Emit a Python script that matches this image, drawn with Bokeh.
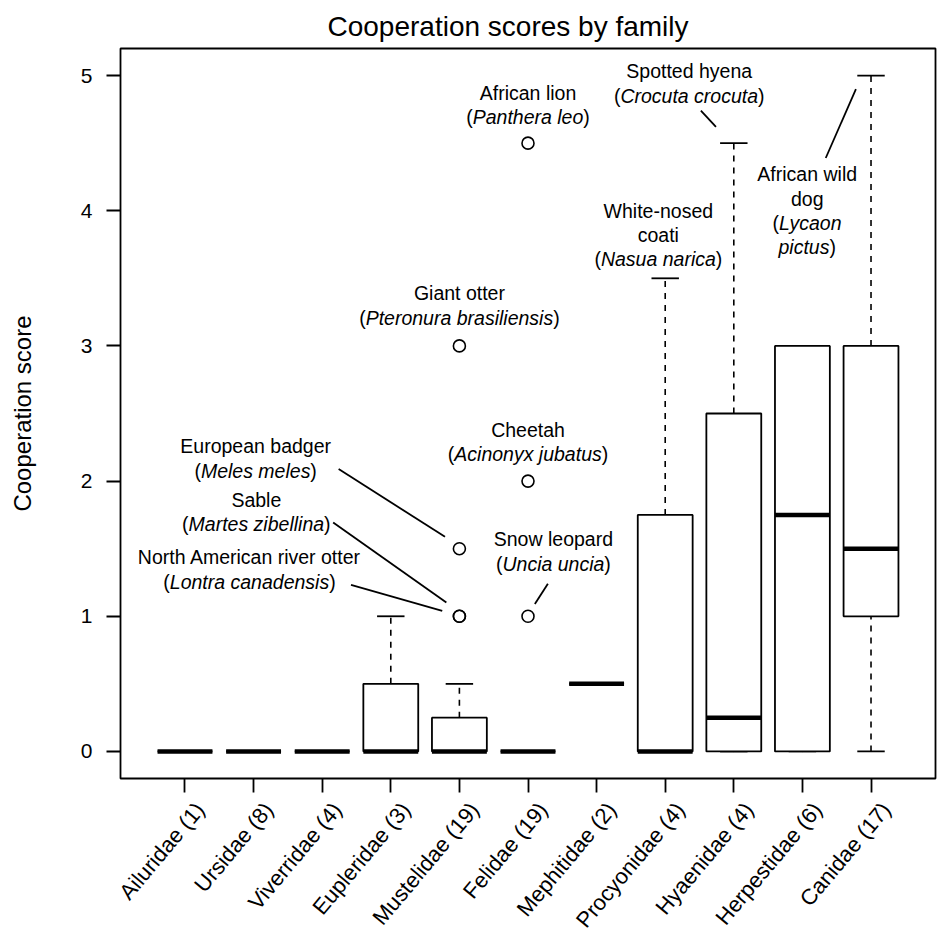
import math
from bokeh.plotting import figure
from bokeh.models import Range1d, FixedTicker, ColumnDataSource, LinearAxis
from bokeh.embed import file_html
from bokeh.resources import INLINE
from bokeh.core.properties import value

# ---------------- data ----------------
families = ["Ailuridae", "Ursidae", "Viverridae", "Eupleridae", "Mustelidae", "Felidae",
            "Mephitidae", "Procyonidae", "Hyaenidae", "Herpestidae", "Canidae"]
counts = [1, 8, 4, 3, 19, 19, 2, 4, 4, 6, 17]
whisker_low = [0, 0, 0, 0, 0, 0, 0.5, 0, 0, 0, 0]
q1 = [0, 0, 0, 0, 0, 0, 0.5, 0, 0, 0, 1]
median = [0, 0, 0, 0, 0, 0, 0.5, 0, 0.25, 1.75, 1.5]
q3 = [0, 0, 0, 0.5, 0.25, 0, 0.5, 1.75, 2.5, 3, 3]
whisker_high = [0, 0, 0, 1, 0.5, 0, 0.5, 3.5, 4.5, 3, 5]

outlier_family = ["Mustelidae", "Mustelidae", "Mustelidae", "Mustelidae",
                  "Felidae", "Felidae", "Felidae"]
outlier_value = [1, 1, 1.5, 3, 1, 2, 4.5]

y_ticks = [0, 1, 2, 3, 4, 5]

ann_common = ["African lion", "Spotted hyena", "African wild\ndog", "White-nosed\ncoati",
              "Giant otter", "Cheetah", "Snow leopard", "European badger", "Sable",
              "North American river otter"]
ann_sci = ["Panthera leo", "Crocuta crocuta", "Lycaon\npictus", "Nasua narica",
           "Pteronura brasiliensis", "Acinonyx jubatus", "Uncia uncia", "Meles meles",
           "Martes zibellina", "Lontra canadensis"]
ann_x = [6.0, 8.35, 10.07, 7.90, 5.0, 6.0, 6.37, 2.03, 2.04, 1.94]
ann_y = [4.87, 5.03, 4.27, 4.00, 3.39, 2.38, 1.57, 2.256, 1.86, 1.435]

leader_x0 = [8.52, 10.34, 6.29, 3.24, 3.16, 3.42]
leader_y0 = [4.74, 4.39, 1.24, 2.089, 1.694, 1.233]
leader_x1 = [8.74, 10.78, 6.10, 4.79, 4.81, 4.75]
leader_y1 = [4.62, 4.90, 1.09, 1.588, 1.102, 1.04]

# ---------------- derived ----------------
labels = [f"{f} ({n})" for f, n in zip(families, counts)]
pos = list(range(1, len(families) + 1))
fam_pos = {f: i for f, i in zip(families, pos)}
BOXW = 0.8
CAPW = 0.4
X_MIN, X_MAX = 0.06, 11.94
Y_MIN, Y_MAX = -0.2, 5.2
LABEL_SHIFT = 0.22   # rotated family labels sit slightly right of their ticks
LABEL_ANGLE = math.radians(50)

FONT = "Liberation Sans"
ANN_FS = 19.5
LINE_STEP = 0.18

# Arial / Liberation Sans advance widths (1/1000 em)
W = {" ": 278, "(": 333, ")": 333, "-": 333}
W.update(dict(zip("ABCDEFGHIJKLMNOPQRSTUVWXYZ",
                  [667, 667, 722, 722, 667, 611, 778, 722, 278, 500, 667, 556, 833, 722,
                   778, 667, 778, 722, 667, 611, 722, 667, 944, 667, 667, 611])))
W.update(dict(zip("abcdefghijklmnopqrstuvwxyz",
                  [556, 556, 500, 556, 556, 278, 556, 556, 222, 222, 500, 222, 833, 556,
                   556, 556, 556, 333, 500, 278, 556, 500, 722, 500, 500, 500])))


def tw(s):
    return sum(W.get(c, 556) for c in s) * ANN_FS / 1000.0


p = figure(width=937, height=943,
           x_range=Range1d(X_MIN, X_MAX), y_range=Range1d(Y_MIN, Y_MAX),
           output_backend="svg", toolbar_location=None,
           min_border_left=120, min_border_right=2, min_border_top=48,
           min_border_bottom=165)
p.extra_x_ranges = {"lab": Range1d(X_MIN - LABEL_SHIFT, X_MAX - LABEL_SHIFT)}

p.title.text = "Cooperation scores by family"
p.title.text_font = FONT
p.title.text_font_size = "28px"
p.title.text_font_style = "normal"
p.title.text_color = "black"
p.title.align = "left"
p.title.offset = 207
p.title.standoff = 13

p.background_fill_color = "white"
p.border_fill_color = "white"
p.outline_line_color = "black"
p.outline_line_width = 1.8
p.outline_line_alpha = 1.0
p.grid.visible = False

for ax in (p.xaxis, p.yaxis):
    ax.axis_line_color = None
    ax.major_tick_in = 0
    ax.major_tick_out = 14
    ax.major_tick_line_width = 1.8
    ax.major_tick_line_color = "black"
    ax.minor_tick_line_color = None
    ax.major_label_text_font = FONT
    ax.major_label_text_color = "black"

p.yaxis.ticker = FixedTicker(ticks=y_ticks)
p.yaxis.major_label_text_font_size = "21px"
p.yaxis.major_label_standoff = 14
p.yaxis.axis_label = "Cooperation score"
p.yaxis.axis_label_text_font = FONT
p.yaxis.axis_label_text_font_size = "24px"
p.yaxis.axis_label_text_font_style = "normal"
p.yaxis.axis_label_text_color = "black"
p.yaxis.axis_label_standoff = 42

# tick marks only on the main x axis
p.xaxis.ticker = FixedTicker(ticks=pos)
p.xaxis.major_label_overrides = {i: "" for i in pos}
p.xaxis.major_label_standoff = 0
p.xaxis.major_label_text_font_size = "0px"

# family labels on a second, label-only axis
lab_axis = LinearAxis(x_range_name="lab", ticker=FixedTicker(ticks=pos),
                      major_label_overrides={i: lab for i, lab in zip(pos, labels)},
                      major_label_orientation=LABEL_ANGLE,
                      major_label_standoff=13,
                      major_label_text_font=FONT, major_label_text_font_size="22px",
                      major_label_text_color="black",
                      axis_line_color=None, major_tick_line_color=None,
                      minor_tick_line_color=None, major_tick_in=0, major_tick_out=0)
p.add_layout(lab_axis, "below")

# ---------------- boxes ----------------
src = ColumnDataSource(dict(
    x=pos, lo=whisker_low, q1=q1, med=median, q3=q3, hi=whisker_high,
    l=[x - BOXW / 2 for x in pos], r=[x + BOXW / 2 for x in pos],
    cl=[x - CAPW / 2 for x in pos], cr=[x + CAPW / 2 for x in pos],
))

# whiskers
p.segment(x0="x", y0="q3", x1="x", y1="hi", source=src, line_color="black",
          line_width=1.6, line_dash="6 6")
p.segment(x0="x", y0="lo", x1="x", y1="q1", source=src, line_color="black",
          line_width=1.6, line_dash="6 6")
# caps
p.segment(x0="cl", y0="hi", x1="cr", y1="hi", source=src, line_color="black", line_width=1.8)
p.segment(x0="cl", y0="lo", x1="cr", y1="lo", source=src, line_color="black", line_width=1.8)
# boxes
p.quad(left="l", right="r", bottom="q1", top="q3", source=src, fill_color="white",
       line_color="black", line_width=1.8)
# medians
p.segment(x0="l", y0="med", x1="r", y1="med", source=src, line_color="black",
          line_width=4.5, line_cap="butt")

# outliers
p.scatter(x=[fam_pos[f] for f in outlier_family], y=outlier_value, marker="circle",
          size=12, fill_color=None, line_color="black", line_width=1.6)

# leader lines
p.segment(x0=leader_x0, y0=leader_y0, x1=leader_x1, y1=leader_y1,
          line_color="black", line_width=1.8)

# ---------------- annotation texts ----------------
plain_c = dict(x=[], y=[], text=[])
plain_l = dict(x=[], y=[], text=[], dx=[])
ital_l = dict(x=[], y=[], text=[], dx=[])
for cx, cy, com, sci in zip(ann_x, ann_y, ann_common, ann_sci):
    k = 0
    for ln in com.split("\n"):
        plain_c["x"].append(cx); plain_c["y"].append(cy - k * LINE_STEP); plain_c["text"].append(ln)
        k += 1
    s_lines = sci.split("\n")
    for j, ln in enumerate(s_lines):
        pre = "(" if j == 0 else ""
        suf = ")" if j == len(s_lines) - 1 else ""
        wp, wn, ws = tw(pre), tw(ln), tw(suf)
        start = -(wp + wn + ws) / 2.0
        y = cy - k * LINE_STEP
        if pre:
            plain_l["x"].append(cx); plain_l["y"].append(y); plain_l["text"].append(pre); plain_l["dx"].append(start)
        ital_l["x"].append(cx); ital_l["y"].append(y); ital_l["text"].append(ln); ital_l["dx"].append(start + wp)
        if suf:
            plain_l["x"].append(cx); plain_l["y"].append(y); plain_l["text"].append(suf); plain_l["dx"].append(start + wp + wn)
        k += 1

fs = f"{ANN_FS}px"
p.text(x="x", y="y", text="text", source=ColumnDataSource(plain_c),
       text_font=value(FONT), text_font_size=value(fs), text_align="center",
       text_baseline="middle", text_color="black")
p.text(x="x", y="y", text="text", x_offset="dx", source=ColumnDataSource(plain_l),
       text_font=value(FONT), text_font_size=value(fs), text_align="left",
       text_baseline="middle", text_color="black")
p.text(x="x", y="y", text="text", x_offset="dx", source=ColumnDataSource(ital_l),
       text_font=value(FONT), text_font_size=value(fs), text_align="left",
       text_baseline="middle", text_color="black", text_font_style="italic")

open("out.html", "w").write(file_html(p, INLINE))
